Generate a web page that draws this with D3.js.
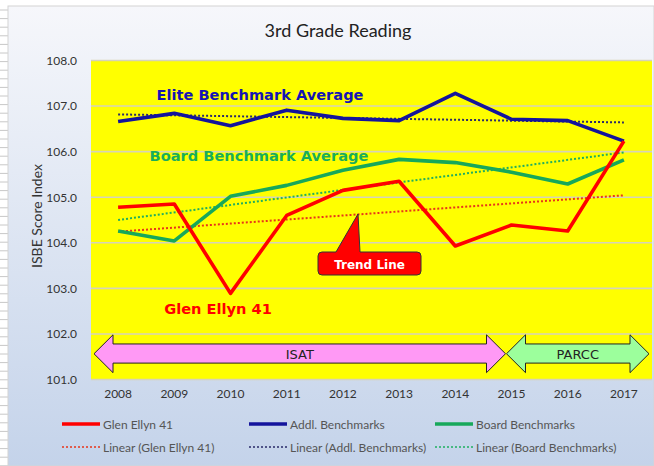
<!DOCTYPE html>
<html><head><meta charset="utf-8">
<script src="https://cdn.jsdelivr.net/npm/d3@7"></script>
<style>body{margin:0;background:#fff}svg{display:block}</style>
</head><body>
<svg id="c" width="654" height="466"></svg>
<script>
const years = ["2008","2009","2010","2011","2012","2013","2014","2015","2016","2017"];
const glenEllyn = [104.78,104.85,102.89,104.60,105.15,105.35,103.93,104.39,104.26,106.23];
const addlBench = [106.66,106.84,106.57,106.91,106.73,106.68,107.28,106.71,106.68,106.23];
const boardBench = [104.26,104.04,105.02,105.26,105.59,105.83,105.76,105.55,105.29,105.82];
const yTicks = [101,102,103,104,105,106,107,108];
const seriesNames = ["Glen Ellyn 41","Addl. Benchmarks","Board Benchmarks"];
const seriesColors = ["#ff0000","#14149c","#17a85a"];
const trendColors = ["#e8341a","#2a2a6a","#1fae60"];

const svg = d3.select("#c");
const W = 654, H = 466;
const plot = {l: 90, r: 652, t: 60.5, b: 379.5};

// background
const defs = svg.append("defs");
const g1 = defs.append("linearGradient").attr("id","bg").attr("x1",0).attr("y1",0).attr("x2",0).attr("y2",1);
g1.append("stop").attr("offset","0%").attr("stop-color","#f6f7fb");
g1.append("stop").attr("offset","100%").attr("stop-color","#c4d3ea");
svg.append("rect").attr("width",W).attr("height",H).attr("fill","#fff");
// ruled lines on left margin
for (let yy = 10; yy < H; yy += 8.6) {
  svg.append("line").attr("x1",0).attr("x2",8).attr("y1",yy).attr("y2",yy).attr("stroke","#c8c8c8").attr("stroke-width",1);
}
svg.append("rect").attr("x",8).attr("y",6).attr("width",W-8).attr("height",H-6).attr("fill","url(#bg)").attr("stroke","#d4d4d4").attr("stroke-width",1);

// title
svg.append("text").attr("x",338).attr("y",37).attr("text-anchor","middle")
  .attr("font-family","Lato, 'Open Sans', sans-serif").attr("font-size",18).attr("fill","#222").text("3rd Grade Reading");

const x = d3.scaleBand().domain(years).range([plot.l, plot.r]).padding(0);
const xc = d => x(d) + x.bandwidth()/2;
const y = d3.scaleLinear().domain([101,108]).range([plot.b, plot.t]);

// plot area
svg.append("rect").attr("x",plot.l+1).attr("y",plot.t).attr("width",plot.r-plot.l-1).attr("height",plot.b-plot.t).attr("fill","#ffff00");
svg.append("g").selectAll("line").data(yTicks).join("line")
  .attr("x1",plot.l+1).attr("x2",plot.r).attr("y1",d=>y(d)).attr("y2",d=>y(d))
  .attr("stroke","#d6d3b8").attr("stroke-width",1.6);

// y axis
const yAxis = d3.axisLeft(y).tickValues(yTicks).tickFormat(d3.format(".1f")).tickSize(0).tickPadding(13);
const ya = svg.append("g").attr("transform",`translate(${plot.l},0)`).call(yAxis);
ya.select(".domain").remove();
ya.selectAll("text").attr("font-family","Lato, 'Open Sans', sans-serif").attr("font-size",12).attr("fill","#333");
svg.append("text").attr("transform","translate(42,216) rotate(-90)").attr("text-anchor","middle")
  .attr("font-family","Lato, 'Open Sans', sans-serif").attr("font-size",14).attr("fill","#333").text("ISBE Score Index");

// x axis
const xAxis = d3.axisBottom(x).tickSize(0).tickPadding(10);
const xa = svg.append("g").attr("transform",`translate(0,${plot.b})`).call(xAxis);
xa.select(".domain").remove();
xa.selectAll("text").attr("font-family","Lato, 'Open Sans', sans-serif").attr("font-size",12).attr("fill","#333");

// arrows
function dblArrow(x0, x1, fill, label) {
  const hl = 19;
  const yt = y(101.98), yb = y(101.15), bt = y(101.78), bb = y(101.36), ym = (yt+yb)/2;
  const pts = [[x0,ym],[x0+hl,yt],[x0+hl,bt],[x1-hl,bt],[x1-hl,yt],[x1,ym],[x1-hl,yb],[x1-hl,bb],[x0+hl,bb],[x0+hl,yb]];
  svg.append("path").attr("d", d3.line()(pts)+"Z").attr("fill",fill).attr("stroke","#222").attr("stroke-width",1);
  svg.append("text").attr("x",(x0+x1)/2).attr("y",ym+5).attr("text-anchor","middle")
    .attr("font-family","'DejaVu Sans', Verdana, sans-serif").attr("font-size",13).attr("fill","#222").text(label);
}
dblArrow(x("2008")+4, xc("2015")-6, "#ff99f5", "ISAT");
dblArrow(xc("2015")-5, plot.r-3, "#9cff9c", "PARCC");

// trend lines (least squares fit of each series)
const allSeries = [glenEllyn, addlBench, boardBench];
function fit(vals) {
  const n = vals.length, mx = (n-1)/2, my = d3.mean(vals);
  let sxy = 0, sxx = 0;
  vals.forEach((v,i) => { sxy += (i-mx)*(v-my); sxx += (i-mx)*(i-mx); });
  const b = sxy/sxx; return [my - b*mx, b];
}
allSeries.forEach((vals,k) => {
  const [a,b] = fit(vals);
  const n = vals.length;
  svg.append("line").attr("x1",xc(years[0])).attr("x2",xc(years[n-1]))
    .attr("y1",y(a)).attr("y2",y(a+b*(n-1)))
    .attr("stroke",trendColors[k]).attr("stroke-width",2).attr("stroke-dasharray","2,2");
});

// series lines
const line = d3.line().x((d,i)=>xc(years[i])).y(d=>y(d));
[boardBench, addlBench, glenEllyn].forEach((vals) => {
  const k = allSeries.indexOf(vals);
  svg.append("path").attr("d",line(vals)).attr("fill","none").attr("stroke",seriesColors[k])
    .attr("stroke-width",3.6).attr("stroke-linejoin","round");
});

// annotations
const af = "'DejaVu Sans', Verdana, sans-serif";
svg.append("text").attr("x",260).attr("y",100).attr("text-anchor","middle").attr("font-family",af).attr("font-weight","bold")
  .attr("font-size",14.6).attr("fill","#1414b4").text("Elite Benchmark Average");
svg.append("text").attr("x",259).attr("y",161).attr("text-anchor","middle").attr("font-family",af).attr("font-weight","bold")
  .attr("font-size",14.6).attr("fill","#19ad5c").text("Board Benchmark Average");
svg.append("text").attr("x",218).attr("y",314).attr("text-anchor","middle").attr("font-family",af).attr("font-weight","bold")
  .attr("font-size",14.6).attr("fill","#ff0000").text("Glen Ellyn 41");

// Trend Line callout
const cx0 = 318, cx1 = 421, cy0 = 252, cy1 = 275, r = 4;
const cp = `M${cx0+r},${cy0} L336,${cy0} L358,214 L360,${cy0} L${cx1-r},${cy0} Q${cx1},${cy0} ${cx1},${cy0+r} L${cx1},${cy1-r} Q${cx1},${cy1} ${cx1-r},${cy1} L${cx0+r},${cy1} Q${cx0},${cy1} ${cx0},${cy1-r} L${cx0},${cy0+r} Q${cx0},${cy0} ${cx0+r},${cy0} Z`;
svg.append("path").attr("d",cp).attr("fill","#ff0000").attr("stroke","#333").attr("stroke-width",1);
svg.append("text").attr("x",(cx0+cx1)/2).attr("y",268.5).attr("text-anchor","middle").attr("font-family",af).attr("font-weight","bold")
  .attr("font-size",12).attr("fill","#fff").text("Trend Line");

// legend
const lf = "Lato, 'Open Sans', sans-serif";
const legX = [62, 249, 435];
const legY = [424, 447];
seriesNames.forEach((nm,k) => {
  svg.append("line").attr("x1",legX[k]).attr("x2",legX[k]+38).attr("y1",legY[0]).attr("y2",legY[0])
    .attr("stroke",seriesColors[k]).attr("stroke-width",3.6);
  svg.append("text").attr("x",legX[k]+41).attr("y",legY[0]+4.5).attr("font-family",lf).attr("font-size",12).attr("fill","#555").text(nm);
  svg.append("line").attr("x1",legX[k]).attr("x2",legX[k]+38).attr("y1",legY[1]).attr("y2",legY[1])
    .attr("stroke",trendColors[k]).attr("stroke-width",1.6).attr("stroke-dasharray","2,2");
  svg.append("text").attr("x",legX[k]+41).attr("y",legY[1]+4.5).attr("font-family",lf).attr("font-size",12).attr("fill","#555").text(`Linear (${nm})`);
});
</script>
</body></html>
